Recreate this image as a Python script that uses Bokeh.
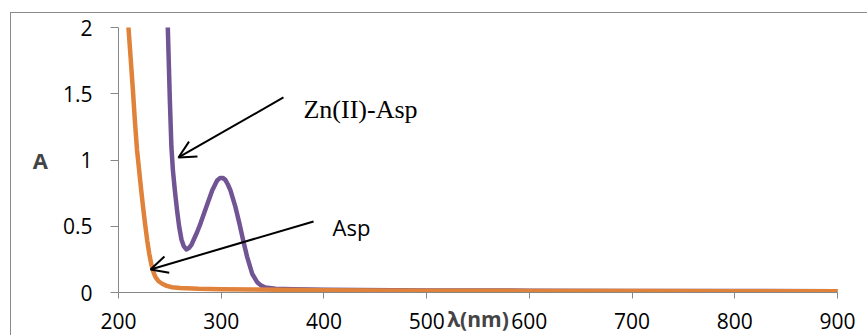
from bokeh.plotting import figure
from bokeh.models import Range1d, Label, Arrow, OpenHead, FixedTicker, InlineStyleSheet
from bokeh.embed import file_html
from bokeh.resources import INLINE

# ---- data ----
asp_x = [205, 209.7, 212, 214, 216, 218, 220, 222, 224, 226, 228, 230, 232, 234, 236,
         239, 242.5, 247, 252, 260, 278, 300, 330, 400, 500, 600, 700, 800, 900]
asp_y = [2.5, 2.0, 1.75, 1.53, 1.29, 1.08, 0.93, 0.78, 0.64, 0.51, 0.39, 0.29, 0.21,
         0.155, 0.116, 0.085, 0.066, 0.05, 0.04, 0.034, 0.028, 0.025, 0.022, 0.017,
         0.014, 0.012, 0.011, 0.010, 0.010]

zn_x = [244, 248, 250, 251.5, 253, 255, 257, 259, 261.3, 263.5, 266, 268.5, 271, 273.3,
        276.5, 279.8, 285.4, 291.2, 296, 299, 301.5, 304, 306.5, 309, 313.9, 317.8,
        321.4, 325.3, 330.2, 335, 339, 343, 353, 370, 400, 500, 600, 700, 800, 900]
zn_y = [2.6, 2.0, 1.45, 1.10, 0.92, 0.76, 0.62, 0.50, 0.40, 0.35, 0.325, 0.335, 0.36,
        0.40, 0.455, 0.52, 0.644, 0.77, 0.845, 0.865, 0.865, 0.85, 0.815, 0.77, 0.644,
        0.518, 0.392, 0.267, 0.141, 0.078, 0.052, 0.038, 0.028, 0.024, 0.02, 0.016,
        0.014, 0.012, 0.011, 0.010]

x_ticks = [200, 300, 400, 500, 600, 700, 800, 900]
y_ticks = [0, 0.5, 1, 1.5, 2]
y_tick_labels = {0: "0", 0.5: "0.5", 1: "1", 1.5: "1.5", 2: "2"}

ORANGE = "#E0823A"
PURPLE = "#705494"
GRAY = "#878787"
TICK_FONT = "Open Sans"

border_css = InlineStyleSheet(css="""
:host { position: relative; }
:host::after {
  content: '';
  position: absolute;
  left: 10px; top: 12px; right: 0; bottom: 0;
  border-left: 1.5px solid #8a8a8a;
  border-top: 1.5px solid #8a8a8a;
  pointer-events: none;
}
""")

p = figure(width=867, height=335, output_backend="svg", toolbar_location=None,
           x_range=Range1d(200, 900), y_range=Range1d(0, 2),
           min_border_left=118, min_border_right=30, min_border_top=27, min_border_bottom=43,
           stylesheets=[border_css])
p.outline_line_color = None
p.xgrid.visible = False
p.ygrid.visible = False
p.background_fill_color = "white"
p.border_fill_color = "white"

p.line(zn_x, zn_y, line_color=PURPLE, line_width=4.5, line_cap="round", line_join="round")
p.line(asp_x, asp_y, line_color=ORANGE, line_width=4.5, line_cap="round", line_join="round")

for ax in (p.xaxis[0], p.yaxis[0]):
    ax.axis_line_color = GRAY
    ax.major_tick_line_color = GRAY
    ax.minor_tick_line_color = None
    ax.major_label_text_font = TICK_FONT
    ax.major_label_text_font_size = "21px"
    ax.major_label_text_color = "black"

p.xaxis.ticker = FixedTicker(ticks=x_ticks)
p.xaxis.major_tick_out = 6
p.xaxis.major_tick_in = 0
p.xaxis.major_label_standoff = 14
p.xaxis.axis_label = "λ(nm)"
p.xaxis.axis_label_text_font = TICK_FONT
p.xaxis.axis_label_text_font_style = "bold"
p.xaxis.axis_label_text_font_size = "21px"
p.xaxis.axis_label_standoff = -27

p.yaxis.ticker = FixedTicker(ticks=y_ticks)
p.yaxis.major_label_overrides = y_tick_labels
p.yaxis.major_tick_out = 8
p.yaxis.major_tick_in = 0
p.yaxis.major_label_standoff = 18
p.yaxis.axis_label = "A"
p.yaxis.axis_label_orientation = "horizontal"
p.yaxis.axis_label_text_font = TICK_FONT
p.yaxis.axis_label_text_font_style = "bold"
p.yaxis.axis_label_text_font_size = "22px"
p.yaxis.axis_label_standoff = 12

# arrows and annotations
p.add_layout(Arrow(x_start=360.6, y_start=1.472, x_end=258.4, y_end=1.019,
                   line_color="black", line_width=2,
                   end=OpenHead(size=17, line_color="black", line_width=2)))
p.add_layout(Arrow(x_start=389.9, y_start=0.536, x_end=231.2, y_end=0.174,
                   line_color="black", line_width=2,
                   end=OpenHead(size=17, line_color="black", line_width=2)))

p.add_layout(Label(x=380.1, y=1.381, text="Zn(II)-Asp", text_align="left",
                   text_baseline="alphabetic", text_font="Liberation Serif",
                   text_font_size="26px", text_color="black"))
p.add_layout(Label(x=408.4, y=0.498, text="Asp", text_align="left",
                   text_baseline="alphabetic", text_font=TICK_FONT,
                   text_font_size="22px", text_color="black"))

open("out.html", "w").write(file_html(p, INLINE))
